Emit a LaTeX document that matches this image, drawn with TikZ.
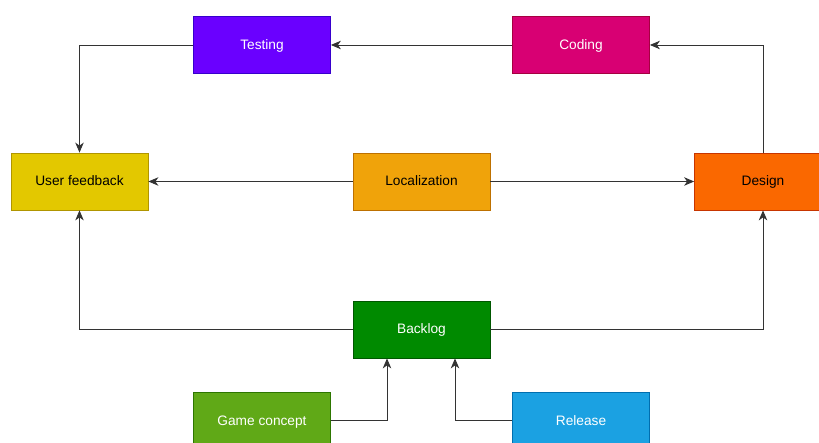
\documentclass[tikz,border=0pt]{standalone}
\usepackage{fontspec}
\setmainfont{Liberation Sans}
\usetikzlibrary{arrows.meta}
\definecolor{cTest}{HTML}{6A00FF}\definecolor{sTest}{HTML}{3700CC}
\definecolor{cCode}{HTML}{D80073}\definecolor{sCode}{HTML}{A50040}
\definecolor{cUser}{HTML}{E3C800}\definecolor{sUser}{HTML}{B09500}
\definecolor{cLoc}{HTML}{F0A30A}\definecolor{sLoc}{HTML}{BD7000}
\definecolor{cDes}{HTML}{FA6800}\definecolor{sDes}{HTML}{C73500}
\definecolor{cBack}{HTML}{008A00}\definecolor{sBack}{HTML}{005700}
\definecolor{cGame}{HTML}{60A917}\definecolor{sGame}{HTML}{2D7600}
\definecolor{cRel}{HTML}{1BA1E2}\definecolor{sRel}{HTML}{006EAF}
\definecolor{lineC}{HTML}{333333}
\tikzset{
  box/.style={rectangle, minimum width=137pt, minimum height=57pt, inner sep=0pt, text height=11pt, text depth=2pt, line width=0.8pt, font=\fontsize{13.7pt}{16pt}\selectfont},
  conn/.style={draw=lineC, line width=0.9pt, -{Stealth[length=10pt,width=8.5pt,inset=3pt]}},
}
\begin{document}
\begin{tikzpicture}[x=1pt,y=-1pt]
\useasboundingbox (0,0) rectangle (819,443);
\clip (0,0) rectangle (819,443);
\node[box, fill=cTest, draw=sTest, text=white] (testing) at (262,45) {Testing};
\node[box, fill=cCode, draw=sCode, text=white] (coding) at (581,45) {Coding};
\node[box, fill=cUser, draw=sUser, text=black] (user) at (79.5,181.5) {User feedback};
\node[box, fill=cLoc, draw=sLoc, text=black] (loc) at (421.5,181.5) {Localization};
\node[box, fill=cDes, draw=sDes, text=black] (design) at (763,181.5) {Design};
\node[box, fill=cBack, draw=sBack, text=white] (backlog) at (421.5,329.5) {Backlog};
\node[box, fill=cGame, draw=sGame, text=white] (game) at (262,420.5) {Game concept};
\node[box, fill=cRel, draw=sRel, text=white] (release) at (581,420.5) {Release};

\draw[conn] (coding.west) -- (testing.east);
\draw[conn] (testing.west) -| (user.north);
\draw[conn] (loc.west) -- (user.east);
\draw[conn] (loc.east) -- (design.west);
\draw[conn] (design.north) |- (coding.east);
\draw[conn] (backlog.west) -| (user.south);
\draw[conn] (backlog.east) -| (design.south);
\draw[conn] (game.east) -| ([xshift=-34.5pt]backlog.south);
\draw[conn] (release.west) -| ([xshift=33.5pt]backlog.south);
\end{tikzpicture}
\end{document}
